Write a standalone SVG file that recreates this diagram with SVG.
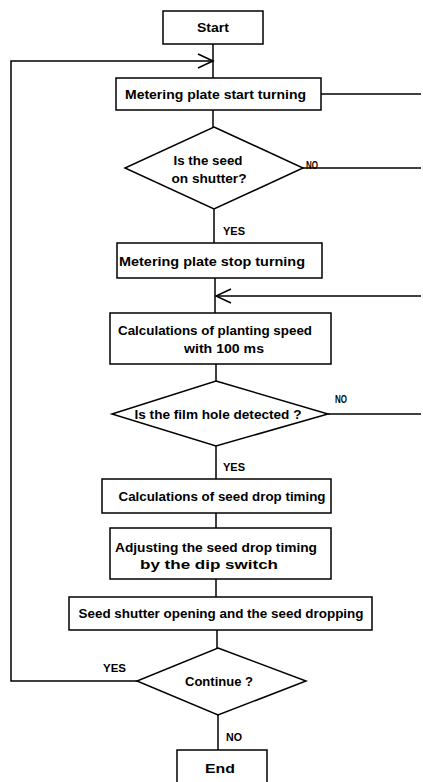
<svg xmlns="http://www.w3.org/2000/svg" width="423" height="782" viewBox="0 0 423 782">
<style>
.s{fill:#fff;stroke:#000;stroke-width:1.5}
.c{fill:none;stroke:#000;stroke-width:1.5}
text{font-family:"Liberation Sans",Arial,sans-serif;font-weight:bold;font-size:13px;fill:#000;text-anchor:middle}
.l{font-size:10px;text-anchor:start}
</style>
<rect width="423" height="782" fill="#fff"/>
<g id="connectors">
<path class="c" d="M213,44 V78"/>
<path class="c" d="M137,681 H11 V61 H213"/>
<path class="c" d="M198,54 L213,61 L198,68"/>
<path class="c" d="M321,94 H421"/>
<path class="c" d="M213,110 V127"/>
<path class="c" d="M303,168 H421"/>
<path class="c" d="M214,209 V243"/>
<path class="c" d="M215,278 V313"/>
<path class="c" d="M421,296 H216"/>
<path class="c" d="M231,289 L216,296 L231,303"/>
<path class="c" d="M216,364 V381"/>
<path class="c" d="M328,414 H421"/>
<path class="c" d="M216,446 V479"/>
<path class="c" d="M216,513 V528"/>
<path class="c" d="M216,579 V597"/>
<path class="c" d="M217,630 V648"/>
<path class="c" d="M218,715 V750"/>
</g>
<g id="start"><rect class="s" x="163" y="11" width="100" height="33"/><text x="213" y="32" textLength="32" lengthAdjust="spacingAndGlyphs">Start</text></g>
<g id="meter-start"><rect class="s" x="116" y="78" width="205" height="32"/><text x="215.5" y="99" textLength="181" lengthAdjust="spacingAndGlyphs">Metering plate start turning</text></g>
<g id="seed-on-shutter"><polygon class="s" points="214,127 303,168 214,209 125,168"/><text x="208" y="165" textLength="69" lengthAdjust="spacingAndGlyphs">Is the seed</text><text x="209" y="183" textLength="75" lengthAdjust="spacingAndGlyphs">on shutter?</text></g>
<g id="meter-stop"><rect class="s" x="117" y="243" width="205" height="35"/><text x="212" y="266" textLength="186" lengthAdjust="spacingAndGlyphs">Metering plate stop turning</text></g>
<g id="calc-speed"><rect class="s" x="110" y="313" width="221" height="51"/><text x="215" y="335" textLength="194" lengthAdjust="spacingAndGlyphs">Calculations of planting speed</text><text x="224" y="353" textLength="80" lengthAdjust="spacingAndGlyphs">with 100 ms</text></g>
<g id="film-hole"><polygon class="s" points="216,381 328,414 216,446 112,414"/><text x="218" y="419" textLength="167" lengthAdjust="spacingAndGlyphs">Is the film hole detected ?</text></g>
<g id="calc-drop"><rect class="s" x="102" y="479" width="229" height="34"/><text x="222" y="501" textLength="207" lengthAdjust="spacingAndGlyphs">Calculations of seed drop timing</text></g>
<g id="adjust"><rect class="s" x="110" y="528" width="221" height="51"/><text x="216" y="552" textLength="202" lengthAdjust="spacingAndGlyphs">Adjusting the seed drop timing</text><text x="209" y="569" textLength="138" lengthAdjust="spacingAndGlyphs">by the dip switch</text></g>
<g id="shutter-open"><rect class="s" x="69" y="597" width="303" height="33"/><text x="221" y="618" textLength="285" lengthAdjust="spacingAndGlyphs">Seed shutter opening and the seed dropping</text></g>
<g id="continue"><polygon class="s" points="218,648 306,681 218,715 137,681"/><text x="219" y="686" textLength="68" lengthAdjust="spacingAndGlyphs">Continue ?</text></g>
<g id="end"><rect class="s" x="177" y="750" width="90" height="40"/><text x="220" y="773" textLength="30" lengthAdjust="spacingAndGlyphs">End</text></g>
<g id="labels">
<text class="l" x="306" y="169" textLength="12" lengthAdjust="spacingAndGlyphs">NO</text>
<text class="l" x="223" y="235" textLength="22" lengthAdjust="spacingAndGlyphs">YES</text>
<text class="l" x="335" y="403" textLength="12" lengthAdjust="spacingAndGlyphs">NO</text>
<text class="l" x="223" y="471" textLength="22" lengthAdjust="spacingAndGlyphs">YES</text>
<text class="l" x="103" y="672" textLength="23" lengthAdjust="spacingAndGlyphs">YES</text>
<text class="l" x="226" y="741" textLength="16" lengthAdjust="spacingAndGlyphs">NO</text>
</g>
</svg>
